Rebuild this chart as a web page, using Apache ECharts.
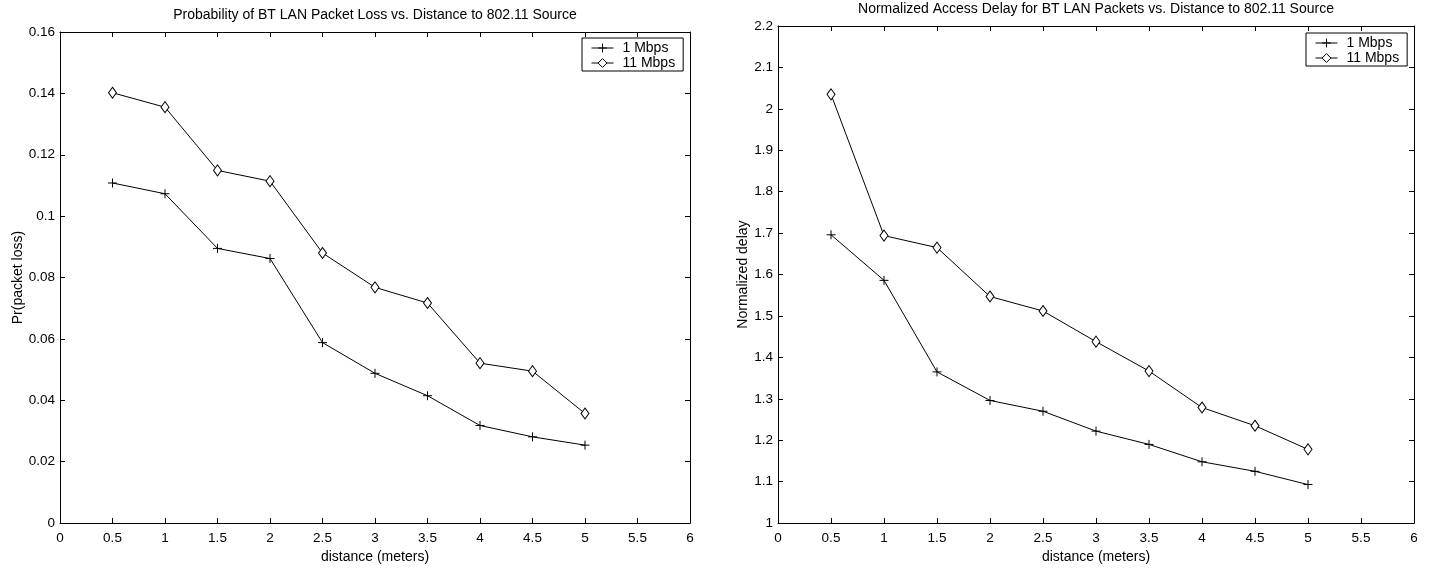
<!DOCTYPE html>
<html>
<head>
<meta charset="utf-8">
<script src="https://cdn.jsdelivr.net/npm/echarts@6/dist/echarts.min.js"></script>
<style>
html,body{margin:0;padding:0;background:#fff;}
#chart{width:1429px;height:569px;}
</style>
</head>
<body>
<div id="chart"></div>
<script>
const distance = [0.5, 1, 1.5, 2, 2.5, 3, 3.5, 4, 4.5, 5];
const loss1Mbps = [0.1108, 0.1073, 0.0895, 0.0862, 0.0588, 0.0488, 0.0415, 0.0318, 0.0281, 0.0254];
const loss11Mbps = [0.1402, 0.1355, 0.1149, 0.1114, 0.0880, 0.0768, 0.0717, 0.0521, 0.0495, 0.0357];
const delay1Mbps = [1.696, 1.586, 1.365, 1.296, 1.270, 1.222, 1.190, 1.148, 1.125, 1.093];
const delay11Mbps = [2.035, 1.694, 1.665, 1.547, 1.512, 1.438, 1.367, 1.279, 1.235, 1.178];
const seriesNames = ['1 Mbps', '11 Mbps'];
const titles = ['Probability of BT LAN Packet Loss vs. Distance to 802.11 Source',
                'Normalized Access Delay for BT LAN Packets vs. Distance to 802.11 Source'];
const xAxisTitle = 'distance (meters)';
const yAxisTitles = ['Pr(packet loss)', 'Normalized delay'];

const FONT = 'Liberation Sans, Arial, Helvetica, sans-serif';
const chart = echarts.init(document.getElementById('chart'));
const pair = (ys) => distance.map((x, i) => [x, ys[i]]);
const PLUS = 'path://M0,5L10,5M5,0L5,10';

function xAxes(gi) {
  const base = {gridIndex: gi, type: 'value', min: 0, max: 6, interval: 0.5, splitLine: {show: false},
    axisLine: {show: true, onZero: false, lineStyle: {color: '#000', width: 1}},
    axisTick: {show: true, inside: true, length: 5, lineStyle: {color: '#000'}}};
  return [
    Object.assign({}, base, {position: 'bottom', name: xAxisTitle, nameLocation: 'middle', nameGap: 23,
      nameTextStyle: {color: '#000', fontFamily: FONT, fontSize: 14},
      axisLabel: {color: '#000', fontFamily: FONT, fontSize: 13.5, margin: 8}}),
    Object.assign({}, base, {position: 'top', axisLabel: {show: false}})
  ];
}
function yAxes(gi, min, max, interval, name, gap) {
  const base = {gridIndex: gi, type: 'value', min: min, max: max, interval: interval, splitLine: {show: false},
    axisLine: {show: true, onZero: false, lineStyle: {color: '#000', width: 1}},
    axisTick: {show: true, inside: true, length: 5, lineStyle: {color: '#000'}}};
  return [
    Object.assign({}, base, {position: 'left', name: name, nameLocation: 'middle', nameGap: gap,
      nameTextStyle: {color: '#000', fontFamily: FONT, fontSize: 14},
      axisLabel: {color: '#000', fontFamily: FONT, fontSize: 13.5, margin: 5}}),
    Object.assign({}, base, {position: 'right', axisLabel: {show: false}})
  ];
}
function mkSeries(gi, name, ys) {
  const plus = name === seriesNames[0];
  return {
    type: 'line', name: name, xAxisIndex: gi * 2, yAxisIndex: gi * 2, data: pair(ys),
    symbol: plus ? PLUS : 'diamond', symbolSize: plus ? 9 : [8, 11],
    showAllSymbol: true, animation: false,
    lineStyle: {color: '#000', width: 1},
    itemStyle: {color: plus ? '#000' : '#fff', borderColor: '#000', borderWidth: 1},
    emphasis: {disabled: true}
  };
}
function legend(left, top) {
  return {left: left, top: top, orient: 'vertical', data: seriesNames,
    backgroundColor: '#fff', borderColor: '#000', borderWidth: 1, borderRadius: 0,
    padding: [3, 8, 1, 9], itemGap: 1, itemWidth: 22, itemHeight: 11,
    lineStyle: {width: 1}, itemStyle: {borderWidth: 1},
    textStyle: {color: '#000', fontFamily: FONT, fontSize: 14, padding: [0, 0, 0, 4]}, selectedMode: false};
}

chart.setOption({
  backgroundColor: '#fff',
  animation: false,
  title: [
    {text: titles[0], left: 375, top: 8, textAlign: 'center', padding: 0,
      textStyle: {color: '#000', fontFamily: FONT, fontSize: 14, fontWeight: 'normal'}},
    {text: titles[1], left: 1096, top: 2, textAlign: 'center', padding: 0,
      textStyle: {color: '#000', fontFamily: FONT, fontSize: 14, fontWeight: 'normal'}}
  ],
  grid: [
    {left: 60, right: 739, top: 32, bottom: 41},
    {left: 778, right: 15, top: 26, bottom: 41}
  ],
  xAxis: xAxes(0).concat(xAxes(1)),
  yAxis: yAxes(0, 0, 0.16, 0.02, yAxisTitles[0], 31).concat(yAxes(1, 1, 2.2, 0.1, yAxisTitles[1], 25)),
  legend: [legend(582, 38), legend(1306, 33)],
  series: [
    mkSeries(0, seriesNames[0], loss1Mbps),
    mkSeries(0, seriesNames[1], loss11Mbps),
    mkSeries(1, seriesNames[0], delay1Mbps),
    mkSeries(1, seriesNames[1], delay11Mbps)
  ]
});
</script>
</body>
</html>
